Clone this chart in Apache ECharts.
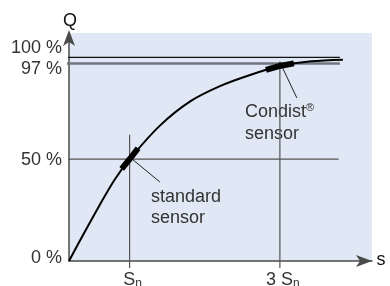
<!DOCTYPE html>
<html>
<head>
<meta charset="utf-8">
<script src="https://cdn.jsdelivr.net/npm/echarts@6/dist/echarts.min.js"></script>
<style>
  html, body { margin: 0; padding: 0; background: #fff; }
  #chart { width: 390px; height: 286px; }
</style>
</head>
<body>
<div id="chart"></div>
<script>
// distance s (in units where Sn = 1) and signal Q in %
var curveS = [0, 0.25, 0.5, 0.75, 1.0, 1.5, 2.0, 2.5, 3.0, 3.5, 4.0, 4.52]
var curveQ = [0, 13.8, 27.2, 39.8, 50, 66.5, 78.4, 86.0, 91.5, 95.9, 98.1, 98.9]

// thick parts of the curve: working ranges of the two sensors
var standardRange = [[0.87, 45.2], [1.0, 50], [1.14, 55.4]]
var condistRange = [[3.25, 93.9], [3.48, 95.8], [3.71, 97.1]]

// level lines and distance marks
var yTickValues = [0, 50, 97, 100]
var yTickLabels = ['0 %', '50 %', '97 %', '100 %']
var xMarkValues = [1, 3.48]
var xMarkLabels = ['S{sub|n}', '3 S{sub|n}']
var xMarkTops = [62, 98]

// leader lines from the curve to the notes
var standardLeader = [[1.04, 50.1], [1.5, 38.8]]
var condistLeader = [[3.48, 97.7], [3.76, 80.1]]

var font = 'Liberation Sans, Arial, sans-serif'
var textColor = '#333'

var chart = echarts.init(document.getElementById('chart'))

function lineSeries(data, color, width, z) {
  return {
    type: 'line',
    data: data,
    showSymbol: false,
    silent: true,
    clip: false,
    z: z,
    lineStyle: { color: color, width: width }
  }
}

var series = []
// horizontal level lines
series.push(lineSeries([[-0.066, 100], [4.47, 100]], '#111', 1.2, 1))
series.push(lineSeries([[-0.066, 97], [4.47, 97]], '#6f7680', 2.5, 1))
series.push(lineSeries([[-0.066, 50], [4.45, 50]], '#555', 1.2, 1))
// vertical distance lines
xMarkValues.forEach(function(v, i) {
  series.push(lineSeries([[v, -3.4], [v, xMarkTops[i]]], '#555', 1.2, 1))
})
// leader lines
series.push(lineSeries(standardLeader, '#222', 1, 2))
series.push(lineSeries(condistLeader, '#222', 1, 2))
// curve
series.push({
  type: 'line',
  data: curveS.map(function(s, i) { return [s, curveQ[i]] }),
  smooth: 0.3,
  showSymbol: false,
  silent: true,
  z: 3,
  lineStyle: { color: '#000', width: 2 }
})
// thick working ranges
series.push(lineSeries(standardRange, '#000', 6, 4))
series.push(lineSeries(condistRange, '#000', 6, 4))

chart.setOption({
  animation: false,
  grid: {
    left: 69,
    right: 18,
    top: 33,
    bottom: 25,
    show: true,
    backgroundColor: '#dfe8f4',
    borderWidth: 0,
    outerBoundsMode: 'none'
  },
  xAxis: {
    type: 'value',
    min: 0,
    max: 5,
    axisLine: {
      show: true,
      lineStyle: { color: '#4a4a4a', width: 1.5 },
      symbol: ['none', 'arrow'],
      symbolSize: [9, 16]
    },
    axisTick: { show: false },
    axisLabel: { show: false },
    splitLine: { show: false }
  },
  yAxis: {
    type: 'value',
    min: 0,
    max: 112,
    axisLine: {
      show: true,
      lineStyle: { color: '#4a4a4a', width: 1.5 },
      symbol: ['none', 'arrow'],
      symbolSize: [9, 16],
      symbolOffset: [0, 3]
    },
    axisTick: { show: false },
    axisLabel: { show: false },
    splitLine: { show: false }
  },
  series: series
})

// texts placed from the axes' own scales
var graphic = []
var yOffsets = { 0: -3, 50: 1, 97: 5, 100: -9 }
yTickValues.forEach(function(v, i) {
  var p = chart.convertToPixel({ gridIndex: 0 }, [0, v])
  graphic.push({
    type: 'text',
    x: 62,
    y: p[1] + yOffsets[v],
    style: {
      text: yTickLabels[i],
      font: '18px ' + font,
      fill: textColor,
      align: 'right',
      verticalAlign: 'middle'
    }
  })
})
xMarkValues.forEach(function(v, i) {
  var p = chart.convertToPixel({ gridIndex: 0 }, [v, 0])
  graphic.push({
    type: 'text',
    x: p[0] + 3,
    y: 280,
    style: {
      text: xMarkLabels[i],
      font: '18px ' + font,
      fill: textColor,
      align: 'center',
      verticalAlign: 'middle',
      rich: {
        sub: { fontSize: 12, fontFamily: font, fill: textColor, padding: [8, 0, 0, 0] }
      }
    }
  })
})
graphic.push({
  type: 'text', x: 70, y: 21,
  style: { text: 'Q', font: '18px ' + font, fill: '#111', align: 'center', verticalAlign: 'middle' }
})
graphic.push({
  type: 'text', x: 381, y: 260,
  style: { text: 's', font: '18px ' + font, fill: '#111', align: 'center', verticalAlign: 'middle' }
})
graphic.push({
  type: 'text', x: 151, y: 208,
  style: {
    text: 'standard\nsensor', font: '18px ' + font, fill: textColor,
    lineHeight: 21, verticalAlign: 'middle'
  }
})
graphic.push({
  type: 'text', x: 245, y: 123,
  style: {
    text: 'Condist{sup|®}\nsensor', font: '18px ' + font, fill: textColor,
    lineHeight: 22, verticalAlign: 'middle',
    rich: {
      sup: { fontSize: 11, fontFamily: font, fill: textColor, padding: [0, 0, 8, 0] }
    }
  }
})
chart.setOption({ graphic: graphic })
</script>
</body>
</html>
